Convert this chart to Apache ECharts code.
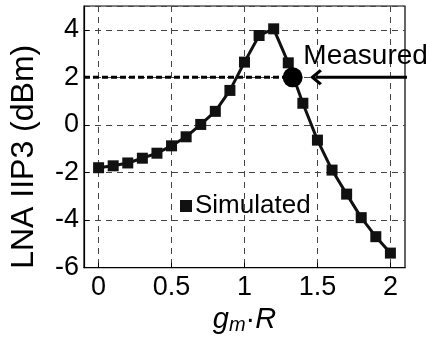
<!DOCTYPE html>
<html>
<head>
<meta charset="utf-8">
<script src="https://cdn.jsdelivr.net/npm/echarts@6/dist/echarts.min.js"></script>
<style>html,body{margin:0;padding:0;background:#fff}#c{width:438px;height:340px}</style>
</head>
<body>
<div id="c"></div>
<script>
// ---- data ----
const gmR = [0,0.1,0.2,0.3,0.4,0.5,0.6,0.7,0.8,0.9,1.0,1.1,1.2,1.3,1.4,1.5,1.6,1.7,1.8,1.9,2.0];
const simulatedIIP3 = [-1.80,-1.72,-1.60,-1.40,-1.19,-0.88,-0.50,0.02,0.57,1.45,2.64,3.76,4.04,2.61,0.91,-0.64,-1.90,-2.91,-3.90,-4.70,-5.39];
const measuredX = [1.33];
const measuredIIP3 = [2];
const levelX = [-0.1, 1.33];
const arrowX = [2.2, 1.49];
const measuredLabelPos = [1.83, 2.9];
const xTicks = [0, 0.5, 1, 1.5, 2];
const yTicks = [-6, -4, -2, 0, 2, 4];

const FONT = 'Liberation Sans, Arial, sans-serif';
const chart = echarts.init(document.getElementById('c'), null, {renderer: 'canvas'});
chart.setOption({
  animation: false,
  backgroundColor: '#fff',
  grid: {left: 79.5, right: 33, top: 6, bottom: 64, show: true, borderColor: '#000', borderWidth: 1.2, backgroundColor: 'transparent'},
  legend: {
    data: ['Simulated'], left: 175, top: 188, icon: 'rect', itemWidth: 12, itemHeight: 12, itemGap: 4,
    textStyle: {fontFamily: FONT, fontSize: 26, color: '#000', padding: [0,0,0,-2]}
  },
  xAxis: {
    type: 'value', min: -0.1, max: 2.1, splitNumber: 5,
    axisLine: {show: true, onZero: false, lineStyle: {color: '#000', width: 1.2}},
    axisTick: {show: true, inside: true, length: 5, lineStyle: {color: '#000'}, customValues: xTicks},
    axisLabel: {fontFamily: FONT, fontSize: 27, color: '#000', margin: 6,
      customValues: xTicks, formatter: v => String(v)},
    splitLine: {show: true, lineStyle: {color: '#444', type: [6, 5], width: 1}},
    name: '{i|g}{s|m}{n|·}{i|R}', nameLocation: 'middle', nameGap: 36,
    nameTextStyle: {fontFamily: FONT, rich: {
      i: {fontStyle: 'italic', fontSize: 29, fontFamily: FONT, color: '#000'},
      s: {fontStyle: 'italic', fontSize: 20, fontFamily: FONT, color: '#000', verticalAlign: 'bottom', padding: [10,0,0,0]},
      n: {fontSize: 29, fontFamily: FONT, color: '#000'}
    }}
  },
  yAxis: {
    type: 'value', min: -6, max: 5, interval: 2,
    axisLine: {show: true, onZero: false, lineStyle: {color: '#000', width: 1.2}},
    axisTick: {show: true, inside: true, length: 5, lineStyle: {color: '#000'}},
    axisLabel: {showMaxLabel: false, fontFamily: FONT, fontSize: 27, color: '#000', margin: 5},
    splitLine: {show: true, lineStyle: {color: '#444', type: [6, 5], width: 1}},
    name: 'LNA IIP3 (dBm)', nameLocation: 'middle', nameGap: 44,
    nameTextStyle: {fontFamily: FONT, fontSize: 32, color: '#000', padding: [0, 40, 0, 0]}
  },
  series: [
    {
      name: 'level', type: 'line', data: levelX.map(x => [x, measuredIIP3[0]]), clip: false,
      showSymbol: false, symbol: 'none', lineStyle: {color: '#000', width: 3, type: [6, 3]}, z: 3
    },
    {
      name: 'arrowShaft', type: 'line', data: arrowX.map(x => [x, measuredIIP3[0]]), clip: false,
      showSymbol: false, symbol: 'none', lineStyle: {color: '#000', width: 3}, z: 3
    },
    {
      name: 'arrowHead', type: 'scatter', data: [[arrowX[1], measuredIIP3[0]]], clip: false, z: 3,
      symbol: 'path://M10,0 L20,10 L17.5,12.5 L10,5 L2.5,12.5 L0,10 Z', symbolSize: [16, 12],
      symbolRotate: 90, symbolOffset: [0, 0], itemStyle: {color: '#000', opacity: 1}
    },
    {
      name: 'Simulated', type: 'line', data: gmR.map((x, i) => [x, simulatedIIP3[i]]),
      symbol: 'rect', symbolSize: 11, itemStyle: {color: '#111'},
      lineStyle: {color: '#111', width: 3}, z: 4
    },
    {
      name: 'Measured', type: 'scatter', data: measuredX.map((x, i) => [x, measuredIIP3[i]]),
      symbol: 'circle', symbolSize: 20, itemStyle: {color: '#000', opacity: 1}, z: 5, clip: false
    },
    {
      name: 'mlabel', type: 'scatter', data: [measuredLabelPos], symbolSize: 0, clip: false, z: 6,
      itemStyle: {opacity: 1},
      label: {show: true, position: 'inside', formatter: 'Measured', fontFamily: FONT, fontSize: 28, color: '#000', opacity: 1}
    }
  ]
});
</script>
</body>
</html>
